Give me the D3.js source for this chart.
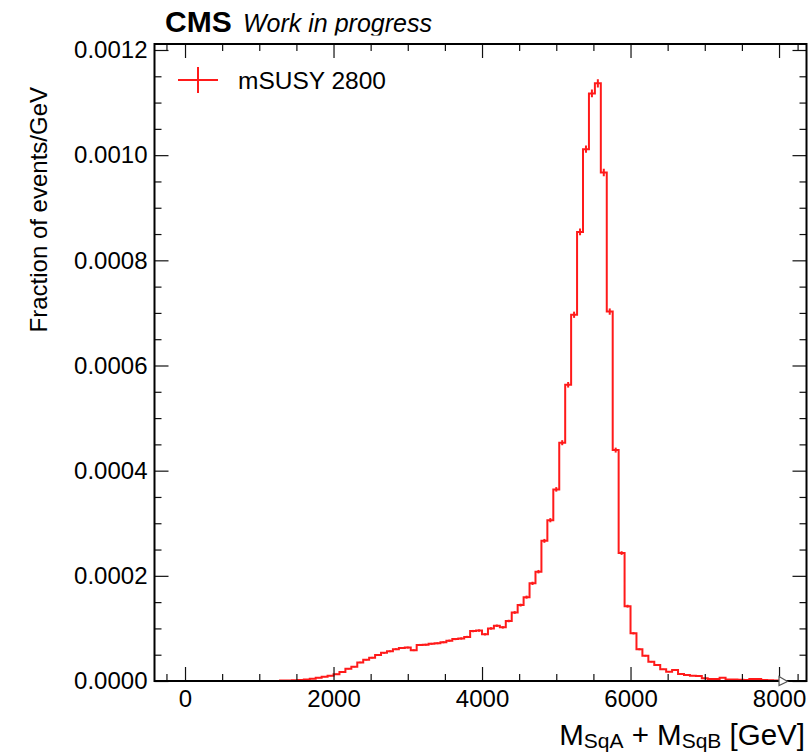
<!DOCTYPE html>
<html>
<head>
<meta charset="utf-8">
<script src="https://cdn.jsdelivr.net/npm/d3@7"></script>
<style>
  body { margin: 0; background: #fff; }
  text { font-family: "Liberation Sans", Arial, Helvetica, sans-serif; fill: #000; }
</style>
</head>
<body>
<svg id="chart" width="812" height="754"></svg>
<script>
// Histogram binning: 100 bins of 80 GeV from 0 to 8000 GeV
const binLow = 0;
const binWidth = 80;

// Normalised bin contents (fraction of events / GeV)
const binValues = [
  0, 0, 0, 0, 0, 0, 0, 0, 0, 0,
  0, 0, 0, 0, 0, 0, 0.0000010, 0.0000010, 0.0000015, 0.0000020,
  0.0000030, 0.0000045, 0.0000060, 0.0000080, 0.0000100, 0.0000130, 0.0000172, 0.0000232, 0.0000272, 0.0000353,
  0.0000404, 0.0000444, 0.0000495, 0.0000535, 0.0000565, 0.0000606, 0.0000626, 0.0000636, 0.0000585, 0.0000686,
  0.0000690, 0.0000707, 0.0000717, 0.0000737, 0.0000767, 0.0000797, 0.0000808, 0.0000838, 0.0000949, 0.0000959,
  0.0000888, 0.0001000, 0.0001050, 0.0001020, 0.0001141, 0.0001302, 0.0001443, 0.0001595, 0.0001857, 0.0002079,
  0.0002665, 0.0003058, 0.0003644, 0.0004532, 0.0005633, 0.0006965, 0.0008540, 0.0010114, 0.0011174, 0.0011366,
  0.0009670, 0.0007025, 0.0004391, 0.0002433, 0.0001423, 0.0000907, 0.0000603, 0.0000481, 0.0000367, 0.0000304,
  0.0000222, 0.0000178, 0.0000209, 0.0000133, 0.0000114, 0.0000101, 0.0000095, 0.0000050, 0.0000038, 0.0000038,
  0.0000064, 0.0000030, 0.0000030, 0.0000025, 0.0000020, 0.0000040, 0.0000040, 0.0000020, 0.0000015, 0.0000010
];

// Statistical uncertainty per bin
const binErrors = [
  0, 0, 0, 0, 0, 0, 0, 0, 0, 0,
  0, 0, 0, 0, 0, 0, 0.0000003, 0.0000003, 0.0000004, 0.0000004,
  0.0000005, 0.0000006, 0.0000007, 0.0000008, 0.0000009, 0.0000010, 0.0000011, 0.0000012, 0.0000013, 0.0000014,
  0.0000015, 0.0000015, 0.0000016, 0.0000017, 0.0000017, 0.0000018, 0.0000018, 0.0000018, 0.0000017, 0.0000019,
  0.0000019, 0.0000019, 0.0000019, 0.0000020, 0.0000020, 0.0000021, 0.0000021, 0.0000021, 0.0000022, 0.0000022,
  0.0000021, 0.0000023, 0.0000023, 0.0000023, 0.0000024, 0.0000026, 0.0000027, 0.0000029, 0.0000031, 0.0000033,
  0.0000037, 0.0000040, 0.0000043, 0.0000048, 0.0000053, 0.0000059, 0.0000065, 0.0000070, 0.0000075, 0.0000080,
  0.0000070, 0.0000060, 0.0000047, 0.0000035, 0.0000027, 0.0000021, 0.0000018, 0.0000016, 0.0000014, 0.0000012,
  0.0000011, 0.0000010, 0.0000010, 0.0000008, 0.0000008, 0.0000007, 0.0000007, 0.0000005, 0.0000004, 0.0000004,
  0.0000006, 0.0000004, 0.0000004, 0.0000004, 0.0000003, 0.0000004, 0.0000004, 0.0000003, 0.0000003, 0.0000002
];

const xMajorTicks = [0, 2000, 4000, 6000, 8000];
const xMinorTicks = [-250, 500, 1000, 1500, 2500, 3000, 3500, 4500, 5000, 5500, 6500, 7000, 7500, 8250];
const yMajorTicks = [0, 0.0002, 0.0004, 0.0006, 0.0008, 0.0010, 0.0012];
const yTickLabels = ["0.0000", "0.0002", "0.0004", "0.0006", "0.0008", "0.0010", "0.0012"];
const yMinorTicks = [0.00005, 0.0001, 0.00015, 0.00025, 0.0003, 0.00035, 0.00045, 0.0005, 0.00055,
                     0.00065, 0.0007, 0.00075, 0.00085, 0.0009, 0.00095, 0.00105, 0.0011, 0.00115];

const seriesLabel = "mSUSY 2800";
const lineColor = "#ff1a1a";

const svg = d3.select("#chart");

const frame = { left: 154.5, right: 806.5, top: 44, bottom: 681 };

const x = d3.scaleLinear().domain([-411, 8370]).range([frame.left, frame.right]);
const y = d3.scaleLinear().domain([0, 0.0012114]).range([frame.bottom, frame.top]);

const edges = d3.range(binValues.length + 1).map(i => binLow + i * binWidth);

// Step outline of the histogram
const stepPoints = binValues.map((v, i) => [edges[i], v]);
stepPoints.push([edges[binValues.length], binValues[binValues.length - 1]]);

const plot = svg.append("g");
const clipId = "plot-clip";
svg.append("clipPath").attr("id", clipId)
  .append("rect")
  .attr("x", frame.left).attr("y", frame.top)
  .attr("width", frame.right - frame.left).attr("height", frame.bottom - frame.top);

const histG = plot.append("g").attr("clip-path", `url(#${clipId})`);

histG.append("path")
  .datum(stepPoints)
  .attr("fill", "none")
  .attr("stroke", lineColor)
  .attr("stroke-width", 2)
  .attr("d", d3.line().x(d => x(d[0])).y(d => y(d[1])).curve(d3.curveStepAfter));

// Error bars at bin centres
histG.selectAll("line.err")
  .data(binValues.map((v, i) => ({ c: edges[i] + binWidth / 2, v, e: binErrors[i] })).filter(d => d.v > 0))
  .join("line")
  .attr("class", "err")
  .attr("x1", d => x(d.c)).attr("x2", d => x(d.c))
  .attr("y1", d => y(d.v - d.e)).attr("y2", d => y(d.v + d.e))
  .attr("stroke", lineColor)
  .attr("stroke-width", 2);

// Axes with inward ticks on all four sides
const majorLen = 14, minorLen = 7;

function styleAxis(g) {
  g.select(".domain").remove();
  g.selectAll(".tick line").attr("stroke", "#111").attr("stroke-width", 1.2);
  g.selectAll(".tick text").attr("font-size", 24).attr("font-family", '"Liberation Sans", Arial, sans-serif').attr("fill", "#000");
}

const xInRange = t => t >= x.domain()[0] && t <= x.domain()[1];

svg.append("g").attr("transform", `translate(0,${frame.bottom})`)
  .call(d3.axisBottom(x).tickValues(xMajorTicks).tickSize(-majorLen).tickPadding(9).tickFormat(d3.format("d")))
  .call(styleAxis);
svg.append("g").attr("transform", `translate(0,${frame.bottom})`)
  .call(d3.axisBottom(x).tickValues(xMinorTicks.filter(xInRange)).tickSize(-minorLen).tickFormat(""))
  .call(styleAxis);
svg.append("g").attr("transform", `translate(0,${frame.top})`)
  .call(d3.axisTop(x).tickValues(xMajorTicks).tickSize(-majorLen).tickFormat(""))
  .call(styleAxis);
svg.append("g").attr("transform", `translate(0,${frame.top})`)
  .call(d3.axisTop(x).tickValues(xMinorTicks.filter(xInRange)).tickSize(-minorLen).tickFormat(""))
  .call(styleAxis);

svg.append("g").attr("transform", `translate(${frame.left},0)`)
  .call(d3.axisLeft(y).tickValues(yMajorTicks).tickSize(-majorLen).tickPadding(7)
    .tickFormat((d, i) => yTickLabels[i]))
  .call(styleAxis);
svg.append("g").attr("transform", `translate(${frame.left},0)`)
  .call(d3.axisLeft(y).tickValues(yMinorTicks).tickSize(-minorLen).tickFormat(""))
  .call(styleAxis);
svg.append("g").attr("transform", `translate(${frame.right},0)`)
  .call(d3.axisRight(y).tickValues(yMajorTicks).tickSize(-majorLen).tickFormat(""))
  .call(styleAxis);
svg.append("g").attr("transform", `translate(${frame.right},0)`)
  .call(d3.axisRight(y).tickValues(yMinorTicks).tickSize(-minorLen).tickFormat(""))
  .call(styleAxis);

// Frame
svg.append("rect")
  .attr("x", frame.left).attr("y", frame.top)
  .attr("width", frame.right - frame.left).attr("height", frame.bottom - frame.top)
  .attr("fill", "none").attr("stroke", "#000").attr("stroke-width", 2);

// Overflow hint marker at the upper edge of the binning
const ofX = x(edges[binValues.length]);
svg.append("path")
  .attr("d", `M${ofX},${frame.bottom - 4.5} L${ofX},${frame.bottom + 4.5} L${ofX + 8.5},${frame.bottom + 0.5} Z`)
  .attr("fill", "#fff").attr("stroke", "#555").attr("stroke-width", 1.2);

// Axis titles
svg.append("text")
  .attr("transform", `translate(47,87) rotate(-90)`)
  .attr("text-anchor", "end")
  .attr("font-size", 24)
  .text("Fraction of events/GeV");

const xTitle = svg.append("text")
  .attr("x", 805).attr("y", 745)
  .attr("text-anchor", "end")
  .attr("font-size", 29.5);
xTitle.append("tspan").text("M");
xTitle.append("tspan").attr("font-size", 21).attr("dy", 3).text("SqA");
xTitle.append("tspan").attr("dy", -3).text(" + M");
xTitle.append("tspan").attr("font-size", 21).attr("dy", 3).text("SqB");
xTitle.append("tspan").attr("dy", -3).text(" [GeV]");

// Experiment label
svg.append("clipPath").attr("id", "label-clip")
  .append("rect").attr("x", 0).attr("y", 0).attr("width", 812).attr("height", 35.5);
const label = svg.append("g").attr("clip-path", "url(#label-clip)");
label.append("text")
  .attr("x", 165).attr("y", 32)
  .attr("font-size", 30).attr("font-weight", "bold")
  .text("CMS");
label.append("text")
  .attr("x", 243).attr("y", 32)
  .attr("font-size", 25).attr("font-style", "italic")
  .text("Work in progress");

// Legend
const lg = svg.append("g");
lg.append("line").attr("x1", 178).attr("x2", 218).attr("y1", 80).attr("y2", 80)
  .attr("stroke", lineColor).attr("stroke-width", 2);
lg.append("line").attr("x1", 198).attr("x2", 198).attr("y1", 67).attr("y2", 93)
  .attr("stroke", lineColor).attr("stroke-width", 2);
lg.append("text").attr("x", 238).attr("y", 89).attr("font-size", 24.5).text(seriesLabel);
</script>
</body>
</html>
